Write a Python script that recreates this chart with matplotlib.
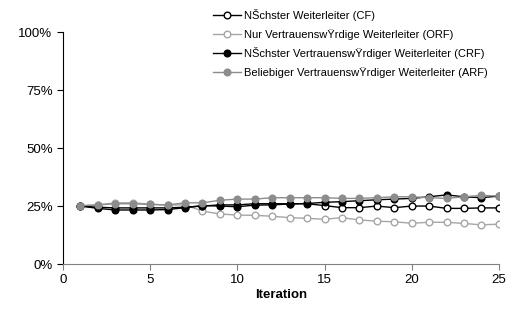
import numpy as np
import matplotlib
matplotlib.use("Agg")
import matplotlib.pyplot as plt
from matplotlib.ticker import PercentFormatter

plt.rcParams['font.family'] = ['Liberation Sans', 'DejaVu Sans']

iteration = np.arange(1, 26)

cf = [25.0, 24.5, 24.2, 24.2, 24.2, 24.2, 24.5, 25.0, 25.5, 25.5, 26.0, 26.0, 26.0, 26.0, 25.2,
      24.3, 24.3, 25.0, 24.3, 25.0, 25.0, 24.0, 24.0, 24.2, 24.2]
orf = [25.0, 25.5, 26.4, 26.4, 25.8, 25.4, 25.5, 22.8, 21.6, 21.1, 21.0, 20.6, 20.0, 19.7, 19.3,
       20.0, 19.0, 18.5, 18.2, 17.6, 18.0, 18.0, 17.5, 16.9, 17.2]
crf = [25.0, 24.0, 23.3, 23.3, 23.3, 23.5, 24.3, 25.2, 25.0, 24.7, 25.4, 25.5, 25.9, 26.1, 26.6,
       26.9, 27.3, 27.7, 28.0, 28.3, 29.0, 29.8, 29.0, 28.6, 29.3]
arf = [25.2, 25.5, 26.0, 26.0, 25.7, 25.5, 26.4, 26.4, 27.5, 28.0, 28.0, 28.6, 28.6, 28.6, 28.6,
       28.3, 28.3, 28.6, 29.0, 29.0, 28.6, 28.3, 29.0, 29.6, 29.3]

labels = [
    "NŠchster Weiterleiter (CF)",
    "Nur VertrauenswŸrdige Weiterleiter (ORF)",
    "NŠchster VertrauenswŸrdiger Weiterleiter (CRF)",
    "Beliebiger VertrauenswŸrdiger Weiterleiter (ARF)",
]

fig = plt.figure(figsize=(5.08, 3.17), dpi=100)
ax = fig.add_axes([0.124, 0.167, 0.858, 0.732])

ms = 4.8
ax.plot(iteration, cf, color='black', lw=1, marker='o', ms=ms, mfc='white', mec='black', mew=1, label=labels[0], zorder=3)
ax.plot(iteration, orf, color='#a6a6a6', lw=1, marker='o', ms=ms, mfc='white', mec='#a6a6a6', mew=1, label=labels[1], zorder=2)
ax.plot(iteration, crf, color='black', lw=1, marker='o', ms=ms, mfc='black', mec='black', label=labels[2], zorder=4)
ax.plot(iteration, arf, color='#8c8c8c', lw=1, marker='o', ms=ms, mfc='#8c8c8c', mec='#8c8c8c', label=labels[3], zorder=5)

ax.set_xlim(0, 25)
ax.set_ylim(0, 100)
ax.set_xticks(range(0, 26, 5))
ax.set_yticks([0, 25, 50, 75, 100])
ax.yaxis.set_major_formatter(PercentFormatter(decimals=0))

for s in ['top', 'right']:
    ax.spines[s].set_visible(False)
ax.spines['left'].set_color('black')
ax.spines['bottom'].set_color('#808080')
ax.tick_params(axis='y', direction='out', length=4, width=0.8, labelsize=9.5, colors='black')
ax.tick_params(axis='x', direction='out', length=4, width=0.8, labelsize=9.5, color='#808080')

ax.set_xlabel('Iteration', fontsize=9.5, fontweight='bold', labelpad=2)

fig.legend(loc='upper left', bbox_to_anchor=(0.41, 0.985), frameon=False, fontsize=8,
           handlelength=2.5, handletextpad=0.3, labelspacing=0.68, borderaxespad=0)

fig.savefig('out.png', dpi=100)
